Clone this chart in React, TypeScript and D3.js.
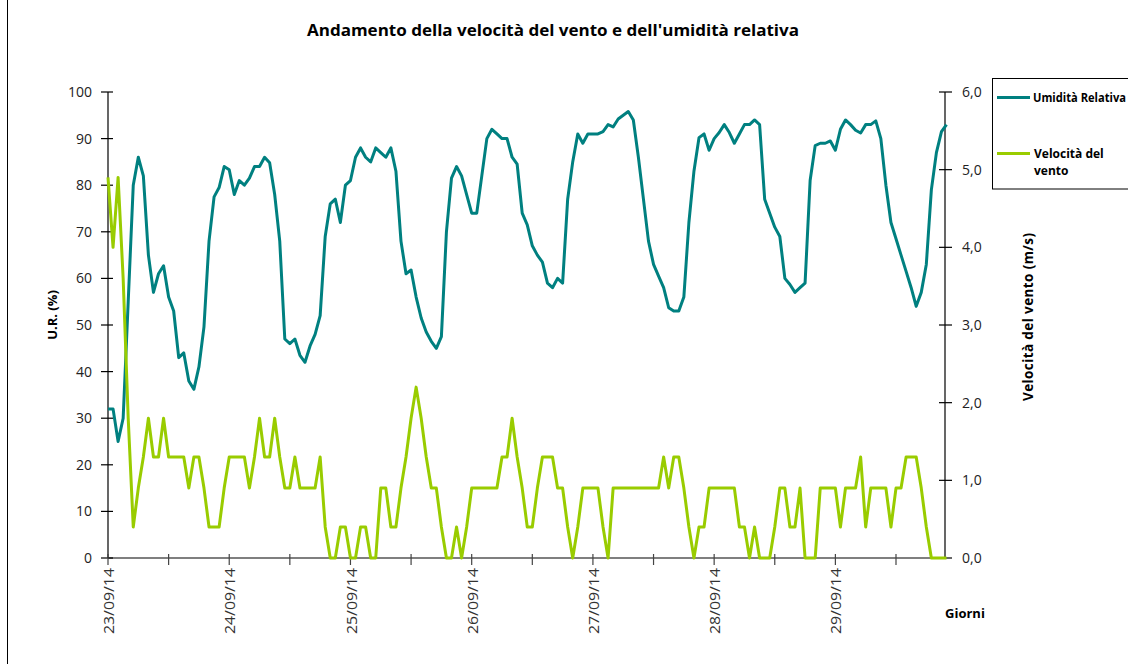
import React from "react";
import * as d3 from "d3";

// Hourly readings from 23/09/14 00:00 (index = hour)
const humidity: number[] = [
  32, 32, 25, 30, 55, 80, 86, 82, 65, 57,
  61, 62.7, 56, 53, 43, 44, 38, 36.2, 41, 49.6,
  68, 77.5, 79.5, 84, 83.3, 78, 81, 80, 81.5, 84,
  84, 86, 84.8, 78, 68, 47, 46, 47, 43.5, 42,
  45.5, 48, 52, 69, 76, 77, 72, 80, 81, 86,
  88, 86, 85, 88, 87, 86, 88, 83, 68, 61,
  61.8, 56, 51.5, 48.5, 46.5, 45, 47.5, 70, 81.5, 84,
  82, 78, 74, 74, 82, 90, 92, 91, 90, 90,
  86, 84.5, 74, 71.5, 67, 65, 63.5, 59, 58, 60,
  59, 77, 85, 91, 89, 91, 91, 91, 91.5, 93,
  92.5, 94.2, 95, 95.8, 94, 86, 77, 68, 63, 60.5,
  58, 53.7, 53, 53, 56, 72, 83, 90.2, 91, 87.5,
  90, 91.3, 93, 91.3, 89, 91, 93, 93, 94, 93,
  77, 74, 71, 69, 60, 58.7, 57, 58, 59, 81,
  88.5, 89, 89, 89.5, 87.5, 92, 94, 93, 91.8, 91.2,
  93, 93, 93.8, 90, 80, 72, 68.5, 65, 61.5, 58,
  54, 57, 63, 79, 87, 91.5, 93,
];

const windSpeed: number[] = [
  4.9, 4.0, 4.9, 3.6, 1.8, 0.4, 0.9, 1.3, 1.8, 1.3,
  1.3, 1.8, 1.3, 1.3, 1.3, 1.3, 0.9, 1.3, 1.3, 0.9,
  0.4, 0.4, 0.4, 0.9, 1.3, 1.3, 1.3, 1.3, 0.9, 1.3,
  1.8, 1.3, 1.3, 1.8, 1.3, 0.9, 0.9, 1.3, 0.9, 0.9,
  0.9, 0.9, 1.3, 0.4, 0, 0, 0.4, 0.4, 0, 0,
  0.4, 0.4, 0, 0, 0.9, 0.9, 0.4, 0.4, 0.9, 1.3,
  1.8, 2.2, 1.8, 1.3, 0.9, 0.9, 0.4, 0, 0, 0.4,
  0, 0.4, 0.9, 0.9, 0.9, 0.9, 0.9, 0.9, 1.3, 1.3,
  1.8, 1.3, 0.9, 0.4, 0.4, 0.9, 1.3, 1.3, 1.3, 0.9,
  0.9, 0.4, 0, 0.4, 0.9, 0.9, 0.9, 0.9, 0.4, 0,
  0.9, 0.9, 0.9, 0.9, 0.9, 0.9, 0.9, 0.9, 0.9, 0.9,
  1.3, 0.9, 1.3, 1.3, 0.9, 0.4, 0, 0.4, 0.4, 0.9,
  0.9, 0.9, 0.9, 0.9, 0.9, 0.4, 0.4, 0, 0.4, 0,
  0, 0, 0.4, 0.9, 0.9, 0.4, 0.4, 0.9, 0, 0,
  0, 0.9, 0.9, 0.9, 0.9, 0.4, 0.9, 0.9, 0.9, 1.3,
  0.4, 0.9, 0.9, 0.9, 0.9, 0.4, 0.9, 0.9, 1.3, 1.3,
  1.3, 0.9, 0.4, 0, 0, 0, 0,
];

const dayLabels: string[] = ["23/09/14", "24/09/14", "25/09/14", "26/09/14", "27/09/14", "28/09/14", "29/09/14"];
const leftTicks: number[] = [0, 10, 20, 30, 40, 50, 60, 70, 80, 90, 100];
const rightTicks: number[] = [0, 1, 2, 3, 4, 5, 6];

const TEAL = "#008080";
const GREEN = "#99CC00";
const FONT = "'Open Sans', 'DejaVu Sans', sans-serif";

export default function App() {
  const x0 = 108, x1 = 945, yTop = 92, yBot = 558;
  const hoursPerTick = 12;
  const tickCount = 14;
  const x = d3.scaleLinear().domain([0, hoursPerTick * tickCount]).range([x0, x0 + (896 - x0) * (14 / 13)]);
  const yL = d3.scaleLinear().domain([0, 100]).range([yBot, yTop]);
  const yR = d3.scaleLinear().domain([0, 6]).range([yBot, yTop]);

  const lineH = d3.line<number>().x((_, i) => x(i)).y((d) => yL(d));
  const lineW = d3.line<number>().x((_, i) => x(i)).y((d) => yR(d));

  const xTicks = d3.range(0, 157, hoursPerTick);
  const fmt = (v: number) => d3.format(".1f")(v).replace(".", ",");

  return (
    <svg width={1128} height={664} style={{ position: "absolute", left: 0, top: 0, background: "#fff" }} fontFamily={FONT}>
      <rect x={0} y={0} width={1128} height={664} fill="#fff" />
      <line x1={7.5} y1={0} x2={7.5} y2={664} stroke="#000" strokeWidth={1} />

      <text x={553} y={36} textAnchor="middle" fontSize={16} fontWeight="bold" fill="#000" textLength={492} lengthAdjust="spacingAndGlyphs">
        Andamento della velocità del vento e dell'umidità relativa
      </text>

      {/* Left axis */}
      <line x1={x0} y1={yTop} x2={x0} y2={yBot} stroke="#000" strokeWidth={1.2} />
      {leftTicks.map((t) => (
        <g key={"l" + t}>
          <line x1={x0 - 7} x2={x0 + 5} y1={yL(t)} y2={yL(t)} stroke="#000" strokeWidth={1.2} />
          <text x={92} y={yL(t)} dy="0.35em" textAnchor="end" fontSize={14} fill="#222">
            {t}
          </text>
        </g>
      ))}
      <text transform={`translate(52,315) rotate(-90)`} dy="0.35em" textAnchor="middle" fontSize={13} fontWeight="bold" fill="#000">
        U.R. (%)
      </text>

      {/* Right axis */}
      <line x1={x1} y1={yTop} x2={x1} y2={yBot} stroke="#000" strokeWidth={1.2} />
      {rightTicks.map((t) => (
        <g key={"r" + t}>
          <line x1={x1 - 6} x2={x1 + 7} y1={yR(t)} y2={yR(t)} stroke="#000" strokeWidth={1.2} />
          <text x={962} y={yR(t)} dy="0.35em" textAnchor="start" fontSize={14} fill="#222">
            {fmt(t)}
          </text>
        </g>
      ))}
      <text transform={`translate(1028,317) rotate(-90)`} dy="0.35em" textAnchor="middle" fontSize={13.5} fontWeight="bold" fill="#000" textLength={168} lengthAdjust="spacing">
        Velocità del vento (m/s)
      </text>

      {/* Bottom axis */}
      <line x1={x0} y1={yBot} x2={x1} y2={yBot} stroke="#000" strokeWidth={1.2} />
      {xTicks.map((t) => (
        <line key={"x" + t} x1={x(t)} x2={x(t)} y1={yBot - 4} y2={yBot + 7} stroke="#444" strokeWidth={1.2} />
      ))}
      {dayLabels.map((lab, i) => (
        <text
          key={lab}
          transform={`translate(${x(i * 24) + 1},568) rotate(-90)`}
          dy="0.35em"
          textAnchor="end"
          fontSize={14.5}
          fill="#333"
          textLength={66}
          lengthAdjust="spacingAndGlyphs"
        >
          {lab}
        </text>
      ))}
      <text x={945} y={618} fontSize={13} fontWeight="bold" fill="#000">
        Giorni
      </text>

      {/* Series */}
      <path d={lineH(humidity) || ""} fill="none" stroke={TEAL} strokeWidth={3} strokeLinejoin="round" />
      <path d={lineW(windSpeed) || ""} fill="none" stroke={GREEN} strokeWidth={3} strokeLinejoin="round" />

      {/* Legend */}
      <rect x={992.5} y={78.5} width={160} height={110.5} fill="#fff" stroke="#000" strokeWidth={1} />
      <line x1={997} x2={1030} y1={97.5} y2={97.5} stroke={TEAL} strokeWidth={3} />
      <text x={1033} y={97.5} dy="0.35em" fontSize={11.5} fontWeight="bold" fill="#000" textLength={93} lengthAdjust="spacingAndGlyphs">
        Umidità Relativa
      </text>
      <line x1={997} x2={1030} y1={153.5} y2={153.5} stroke={GREEN} strokeWidth={3} />
      <text x={1034} y={153.5} dy="0.35em" fontSize={12} fontWeight="bold" fill="#000">
        Velocità del
      </text>
      <text x={1034} y={170.5} dy="0.35em" fontSize={12} fontWeight="bold" fill="#000">
        vento
      </text>
    </svg>
  );
}
